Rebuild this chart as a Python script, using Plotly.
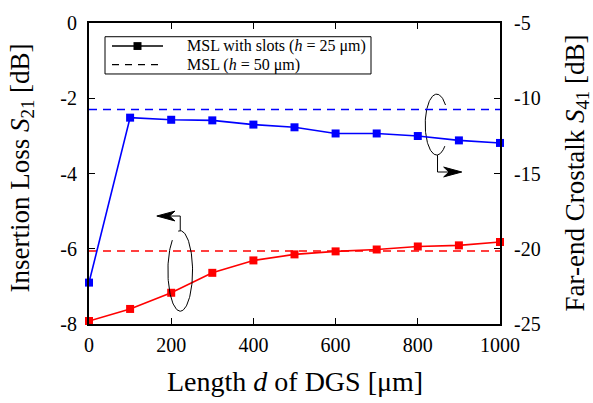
import numpy as np
import plotly.graph_objects as go

# DGS length sweep
length_um = [0, 100, 200, 300, 400, 500, 600, 700, 800, 900, 1000]

# Insertion loss S21 (left axis)
s21_slots = [-7.92, -7.60, -7.17, -6.64, -6.31, -6.15, -6.07, -6.02, -5.94, -5.91, -5.82]
s21_msl = -6.06

# Far-end crosstalk S41 (right axis)
s41_slots = [-22.25, -11.29, -11.43, -11.47, -11.75, -11.93, -12.34, -12.34, -12.51, -12.80, -12.97]
s41_msl = -10.75

x_ticks = [0, 200, 400, 600, 800, 1000]
y1_ticks = [0, -2, -4, -6, -8]
y2_ticks = [-5, -10, -15, -20, -25]

legend_labels = ["MSL with slots (<i>h</i> = 25 μm)", "MSL (<i>h</i> = 50 μm)"]

FONT = "Liberation Serif"
RED = "#ff0000"
BLUE = "#0000ff"
x_span = [min(length_um), max(length_um)]

W, H = 593, 403
ML, MR, MT, MB = 89, 93, 17, 79
PW, PH = W - ML - MR, H - MT - MB


def px_x(px):
    """pixel column -> paper x"""
    return (px - ML) / PW


def px_y(py):
    """pixel row -> paper y"""
    return 1 - (py - MT) / PH


fig = go.Figure()

fig.add_trace(go.Scatter(x=length_um, y=s21_slots, mode="lines+markers",
                         line=dict(color=RED, width=1.6),
                         marker=dict(symbol="square", size=8, color=RED),
                         cliponaxis=False, showlegend=False, yaxis="y"))
fig.add_trace(go.Scatter(x=x_span, y=[s21_msl, s21_msl], mode="lines",
                         line=dict(color=RED, width=1.6, dash="8px,6px"),
                         showlegend=False, yaxis="y"))
fig.add_trace(go.Scatter(x=length_um, y=s41_slots, mode="lines+markers",
                         line=dict(color=BLUE, width=1.6),
                         marker=dict(symbol="square", size=8, color=BLUE),
                         cliponaxis=False, showlegend=False, yaxis="y2"))
fig.add_trace(go.Scatter(x=x_span, y=[s41_msl, s41_msl], mode="lines",
                         line=dict(color=BLUE, width=1.6, dash="8px,6px"),
                         showlegend=False, yaxis="y2"))


def open_ellipse(cx, cy, rx, ry, a0, a1):
    t = np.radians(np.linspace(a0, a1, 120))
    return cx + rx * np.cos(t), cy + ry * np.sin(t)


# callout ellipses around each curve (drawn in left-axis units)
ex, ey = open_ellipse(846, -2.70, 28, 0.81, 40, 315)
fig.add_trace(go.Scatter(x=ex, y=ey, mode="lines", line=dict(color="black", width=1),
                         showlegend=False, hoverinfo="skip"))
ex, ey = open_ellipse(222, -6.59, 30, 1.07, 130, 460)
fig.add_trace(go.Scatter(x=ex, y=ey, mode="lines", line=dict(color="black", width=1),
                         showlegend=False, hoverinfo="skip"))


def leader(x0, y0, y1, x_tip):
    """vertical stub, horizontal shaft and a notched arrowhead pointing at x_tip"""
    sgn = 1 if x_tip > x0 else -1
    head, notch, half = 44, 31, 0.13
    back = x_tip - sgn * head
    mid = x_tip - sgn * notch
    line = dict(color="black", width=1)
    return [
        dict(type="line", xref="x", yref="y", x0=x0, x1=x0, y0=y0, y1=y1, line=line),
        dict(type="line", xref="x", yref="y", x0=x0, x1=mid, y0=y1, y1=y1, line=line),
        dict(type="path", xref="x", yref="y",
             path=f"M {x_tip},{y1} L {back},{y1 + half} L {mid},{y1} L {back},{y1 - half} Z",
             fillcolor="black", line=dict(color="black", width=1)),
    ]


shapes = leader(848, -3.51, -3.96, 907) + leader(222, -5.52, -5.13, 165)

# key box
row_y = [40.5, 59.5]
shapes += [
    dict(type="rect", xref="paper", yref="paper", x0=px_x(105), x1=px_x(371),
         y0=px_y(69), y1=px_y(31), line=dict(color="black", width=1),
         fillcolor="white", layer="above"),
    dict(type="line", xref="paper", yref="paper", x0=px_x(112), x1=px_x(163),
         y0=px_y(row_y[0]), y1=px_y(row_y[0]), line=dict(color="black", width=1.4),
         layer="above"),
    dict(type="rect", xref="paper", yref="paper", x0=px_x(133.5), x1=px_x(141.5),
         y0=px_y(row_y[0] + 4), y1=px_y(row_y[0] - 4), line=dict(width=0),
         fillcolor="black", layer="above"),
    dict(type="line", xref="paper", yref="paper", x0=px_x(112), x1=px_x(163),
         y0=px_y(row_y[1]), y1=px_y(row_y[1]),
         line=dict(color="black", width=1.4, dash="7px,6px"), layer="above"),
]

annotations = [
    dict(text="Insertion Loss <i>S</i><sub>21</sub> [dB]", xref="paper", yref="paper",
         x=0, y=0.5, xshift=-68, yshift=5, xanchor="center", yanchor="middle",
         textangle=-90, showarrow=False,
         font=dict(family=FONT, size=27, color="black")),
    dict(text="Far-end Crostalk <i>S</i><sub>41</sub> [dB]", xref="paper", yref="paper",
         x=1, y=0.5, xshift=76, yshift=0, xanchor="center", yanchor="middle",
         textangle=-90, showarrow=False,
         font=dict(family=FONT, size=27, color="black")),
    dict(text="Length <i>d</i> of DGS [μm]", xref="paper", yref="paper",
         x=0.5, y=0, yshift=-57, xanchor="center", yanchor="middle", showarrow=False,
         font=dict(family=FONT, size=28, color="black")),
]
for label, ry in zip(legend_labels, row_y):
    annotations.append(dict(text=label, xref="paper", yref="paper", x=px_x(186),
                            y=px_y(ry), xanchor="left", yanchor="middle",
                            borderpad=0, showarrow=False,
                            font=dict(family=FONT, size=16, color="black")))

axis_common = dict(showgrid=False, zeroline=False, showline=True, linecolor="black",
                   linewidth=2, ticks="inside", ticklen=6, tickwidth=1, tickcolor="black",
                   tickfont=dict(family=FONT, size=20, color="black"))

fig.update_layout(
    width=W, height=H,
    margin=dict(l=ML, r=MR, t=MT, b=MB),
    paper_bgcolor="white", plot_bgcolor="white",
    font=dict(family=FONT, color="black"),
    showlegend=False,
    xaxis=dict(range=[0, 1000], tickvals=x_ticks, ticktext=[str(v) for v in x_ticks],
               mirror="ticks", ticklabelstandoff=2, **axis_common),
    yaxis=dict(range=[-8, 0], tickvals=y1_ticks, ticktext=[str(v) for v in y1_ticks],
               ticklabelstandoff=6, **axis_common),
    yaxis2=dict(range=[-25, -5], tickvals=y2_ticks, ticktext=[str(v) for v in y2_ticks],
                overlaying="y", side="right", ticklabelstandoff=8, **axis_common),
    shapes=shapes, annotations=annotations,
)

fig.write_html("out.html")
